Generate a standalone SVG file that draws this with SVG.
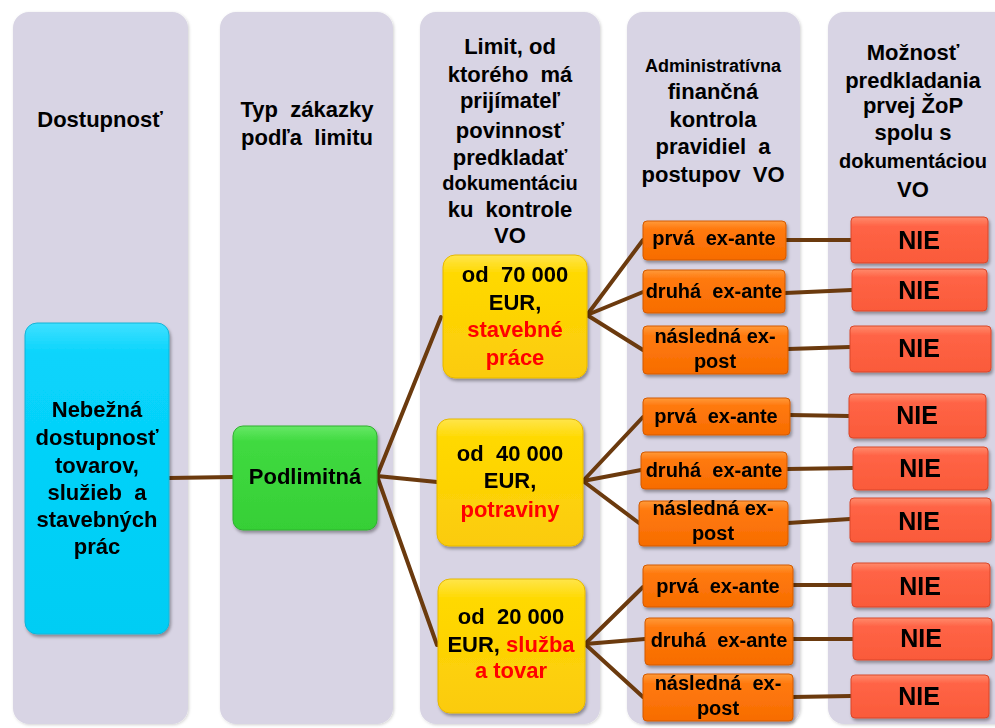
<svg xmlns="http://www.w3.org/2000/svg" width="995" height="728" viewBox="0 0 995 728">
<defs>
<style>
.col{fill:#d8d4e4;}
.t{font-family:"Liberation Sans",Arial,sans-serif;font-weight:bold;font-size:22px;fill:#000;text-anchor:middle;white-space:pre;}
.r{fill:#ff0000;}
.s20{font-size:20px;}
.s18{font-size:18px;}
.nie{font-size:25px;}
.conn line{stroke:#6b3a0e;stroke-width:4;stroke-linecap:round;}
.blue{fill:url(#gBlue);stroke:#12b4d8;stroke-width:1;}
.green{fill:url(#gGreen);stroke:#2fb02f;stroke-width:1;}
.yel{fill:url(#gYel);stroke:#e6b800;stroke-width:1;}
.ora{fill:url(#gOra);stroke:#d35a00;stroke-width:1;}
.red{fill:url(#gRed);stroke:#d9462a;stroke-width:1;}
</style>
<linearGradient id="gBlue" x1="0" y1="0" x2="0" y2="1"><stop offset="0" stop-color="#3fe0ff"/><stop offset="0.1" stop-color="#08d4fc"/><stop offset="1" stop-color="#00cdf4"/></linearGradient>
<linearGradient id="gGreen" x1="0" y1="0" x2="0" y2="1"><stop offset="0" stop-color="#66e866"/><stop offset="0.15" stop-color="#40da40"/><stop offset="1" stop-color="#36cf36"/></linearGradient>
<linearGradient id="gYel" x1="0" y1="0" x2="0" y2="1"><stop offset="0" stop-color="#ffe54a"/><stop offset="0.15" stop-color="#ffd900"/><stop offset="1" stop-color="#fbcb0c"/></linearGradient>
<linearGradient id="gOra" x1="0" y1="0" x2="0" y2="1"><stop offset="0" stop-color="#ff9a3a"/><stop offset="0.2" stop-color="#ff7a10"/><stop offset="1" stop-color="#f76c00"/></linearGradient>
<linearGradient id="gRed" x1="0" y1="0" x2="0" y2="1"><stop offset="0" stop-color="#ff8a6c"/><stop offset="0.2" stop-color="#ff6446"/><stop offset="1" stop-color="#fa5a3a"/></linearGradient>
<filter id="sh" x="-10%" y="-10%" width="125%" height="130%"><feDropShadow dx="1.5" dy="2.5" stdDeviation="1.8" flood-color="#000" flood-opacity="0.35"/></filter>
<filter id="csh" x="-5%" y="-5%" width="115%" height="110%"><feDropShadow dx="1" dy="1" stdDeviation="1.5" flood-color="#000" flood-opacity="0.18"/></filter>
</defs>
<rect width="995" height="728" fill="#ffffff"/>

<g id="columns" filter="url(#csh)">
<rect class="col" x="13" y="12" width="175" height="712" rx="16"/>
<rect class="col" x="220" y="12" width="173" height="712" rx="16"/>
<rect class="col" x="420" y="12" width="180" height="712" rx="16"/>
<rect class="col" x="627" y="12" width="173" height="712" rx="16"/>
<rect class="col" x="828" y="12" width="185" height="712" rx="16"/>
</g>

<g id="headers">
<text class="t" x="100" y="127">Dostupnosť</text>
<text class="t" x="307" y="117">Typ  zákazky</text>
<text class="t" x="307" y="145">podľa  limitu</text>
<text class="t" x="510" y="54">Limit, od</text>
<text class="t" x="510" y="82">ktorého  má</text>
<text class="t" x="510" y="108">prijímateľ</text>
<text class="t" x="510" y="138">povinnosť</text>
<text class="t" x="510" y="165">predkladať</text>
<text class="t s20" x="510" y="190">dokumentáciu</text>
<text class="t" x="510" y="217">ku  kontrole</text>
<text class="t" x="510" y="243">VO</text>
<text class="t s18" x="713" y="72">Administratívna</text>
<text class="t" x="713" y="99">finančná</text>
<text class="t" x="713" y="127">kontrola</text>
<text class="t" x="713" y="154">pravidiel  a</text>
<text class="t" x="713" y="182">postupov  VO</text>
<text class="t" x="913" y="60">Možnosť</text>
<text class="t" x="913" y="88">predkladania</text>
<text class="t" x="913" y="113">prvej ŽoP</text>
<text class="t" x="913" y="140">spolu s</text>
<text class="t s20" x="913" y="168">dokumentáciou</text>
<text class="t" x="913" y="197">VO</text>
</g>

<g id="connectors" class="conn">
<line x1="169" y1="478" x2="233" y2="477"/>
<line x1="377" y1="476" x2="441" y2="317"/>
<line x1="377" y1="476" x2="437" y2="482"/>
<line x1="377" y1="476" x2="437" y2="645"/>
<line x1="587" y1="315" x2="643" y2="240"/>
<line x1="587" y1="315" x2="643" y2="292"/>
<line x1="587" y1="315" x2="643" y2="350"/>
<line x1="583" y1="481" x2="643" y2="417"/>
<line x1="583" y1="481" x2="641" y2="470"/>
<line x1="583" y1="481" x2="639" y2="523"/>
<line x1="585" y1="644" x2="643" y2="587"/>
<line x1="585" y1="644" x2="645" y2="639"/>
<line x1="585" y1="644" x2="643" y2="697"/>
<line x1="786" y1="240" x2="851" y2="240"/>
<line x1="785" y1="293" x2="852" y2="290"/>
<line x1="788" y1="349" x2="850" y2="347"/>
<line x1="790" y1="415" x2="849" y2="416"/>
<line x1="787" y1="469" x2="853" y2="468"/>
<line x1="788" y1="523" x2="850" y2="519"/>
<line x1="793" y1="585" x2="852" y2="585"/>
<line x1="793" y1="639" x2="853" y2="639"/>
<line x1="793" y1="697" x2="851" y2="696"/>
</g>

<g id="n-nebezna" filter="url(#sh)">
<rect class="blue" x="25" y="323" width="144" height="311" rx="12"/>
<text class="t" x="97" y="417">Nebežná</text>
<text class="t" x="97" y="445">dostupnosť</text>
<text class="t" x="97" y="473">tovarov,</text>
<text class="t" x="97" y="500">služieb  a</text>
<text class="t" x="97" y="527">stavebných</text>
<text class="t" x="97" y="554">prác</text>
</g>

<g id="n-podlimitna" filter="url(#sh)">
<rect class="green" x="233" y="426" width="144" height="104" rx="10"/>
<text class="t" x="305" y="484">Podlimitná</text>
</g>

<g id="n-70000" filter="url(#sh)">
<rect class="yel" x="443" y="255" width="144" height="123" rx="12"/>
<text class="t" x="515" y="282">od  70 000</text>
<text class="t" x="515" y="310">EUR,</text>
<text class="t r" x="515" y="337">stavebné</text>
<text class="t r" x="515" y="365">práce</text>
</g>

<g id="n-40000" filter="url(#sh)">
<rect class="yel" x="437" y="419" width="146" height="127" rx="12"/>
<text class="t" x="510" y="461">od  40 000</text>
<text class="t" x="510" y="488">EUR,</text>
<text class="t r" x="510" y="517">potraviny</text>
</g>

<g id="n-20000" filter="url(#sh)">
<rect class="yel" x="438" y="579" width="147" height="134" rx="12"/>
<text class="t" x="511" y="624">od  20 000</text>
<text class="t" x="511" y="652">EUR, <tspan class="r">služba</tspan></text>
<text class="t r" x="511" y="678">a tovar</text>
</g>

<g id="n-o1a" filter="url(#sh)"><rect class="ora" x="643" y="221" width="143" height="39" rx="4"/><text class="t s20" x="714" y="245">prvá  ex-ante</text></g>
<g id="n-o1b" filter="url(#sh)"><rect class="ora" x="643" y="270" width="142" height="43" rx="4"/><text class="t s20" x="714" y="298">druhá  ex-ante</text></g>
<g id="n-o1c" filter="url(#sh)"><rect class="ora" x="643" y="326" width="145" height="48" rx="4"/><text class="t s20" x="715" y="343">následná ex-</text><text class="t s20" x="715" y="368">post</text></g>

<g id="n-o2a" filter="url(#sh)"><rect class="ora" x="643" y="398" width="147" height="37" rx="4"/><text class="t s20" x="716" y="423">prvá  ex-ante</text></g>
<g id="n-o2b" filter="url(#sh)"><rect class="ora" x="641" y="452" width="146" height="37" rx="4"/><text class="t s20" x="714" y="477">druhá  ex-ante</text></g>
<g id="n-o2c" filter="url(#sh)"><rect class="ora" x="639" y="501" width="149" height="45" rx="4"/><text class="t s20" x="713" y="515">následná ex-</text><text class="t s20" x="713" y="540">post</text></g>

<g id="n-o3a" filter="url(#sh)"><rect class="ora" x="643" y="565" width="150" height="42" rx="4"/><text class="t s20" x="718" y="593">prvá  ex-ante</text></g>
<g id="n-o3b" filter="url(#sh)"><rect class="ora" x="645" y="618" width="148" height="47" rx="4"/><text class="t s20" x="719" y="647">druhá  ex-ante</text></g>
<g id="n-o3c" filter="url(#sh)"><rect class="ora" x="643" y="674" width="150" height="47" rx="4"/><text class="t s20" x="718" y="690">následná  ex-</text><text class="t s20" x="718" y="715">post</text></g>

<g id="n-nie1" filter="url(#sh)"><rect class="red" x="851" y="217" width="137" height="46" rx="4"/><text class="t nie" x="919" y="249">NIE</text></g>
<g id="n-nie2" filter="url(#sh)"><rect class="red" x="852" y="269" width="135" height="42" rx="4"/><text class="t nie" x="919" y="299">NIE</text></g>
<g id="n-nie3" filter="url(#sh)"><rect class="red" x="850" y="326" width="141" height="46" rx="4"/><text class="t nie" x="919" y="357">NIE</text></g>
<g id="n-nie4" filter="url(#sh)"><rect class="red" x="849" y="394" width="137" height="44" rx="4"/><text class="t nie" x="917" y="424">NIE</text></g>
<g id="n-nie5" filter="url(#sh)"><rect class="red" x="853" y="447" width="135" height="43" rx="4"/><text class="t nie" x="920" y="477">NIE</text></g>
<g id="n-nie6" filter="url(#sh)"><rect class="red" x="850" y="498" width="141" height="44" rx="4"/><text class="t nie" x="919" y="530">NIE</text></g>
<g id="n-nie7" filter="url(#sh)"><rect class="red" x="852" y="563" width="138" height="44" rx="4"/><text class="t nie" x="920" y="595">NIE</text></g>
<g id="n-nie8" filter="url(#sh)"><rect class="red" x="853" y="618" width="139" height="42" rx="4"/><text class="t nie" x="921" y="647">NIE</text></g>
<g id="n-nie9" filter="url(#sh)"><rect class="red" x="851" y="675" width="138" height="43" rx="4"/><text class="t nie" x="919" y="705">NIE</text></g>
</svg>
